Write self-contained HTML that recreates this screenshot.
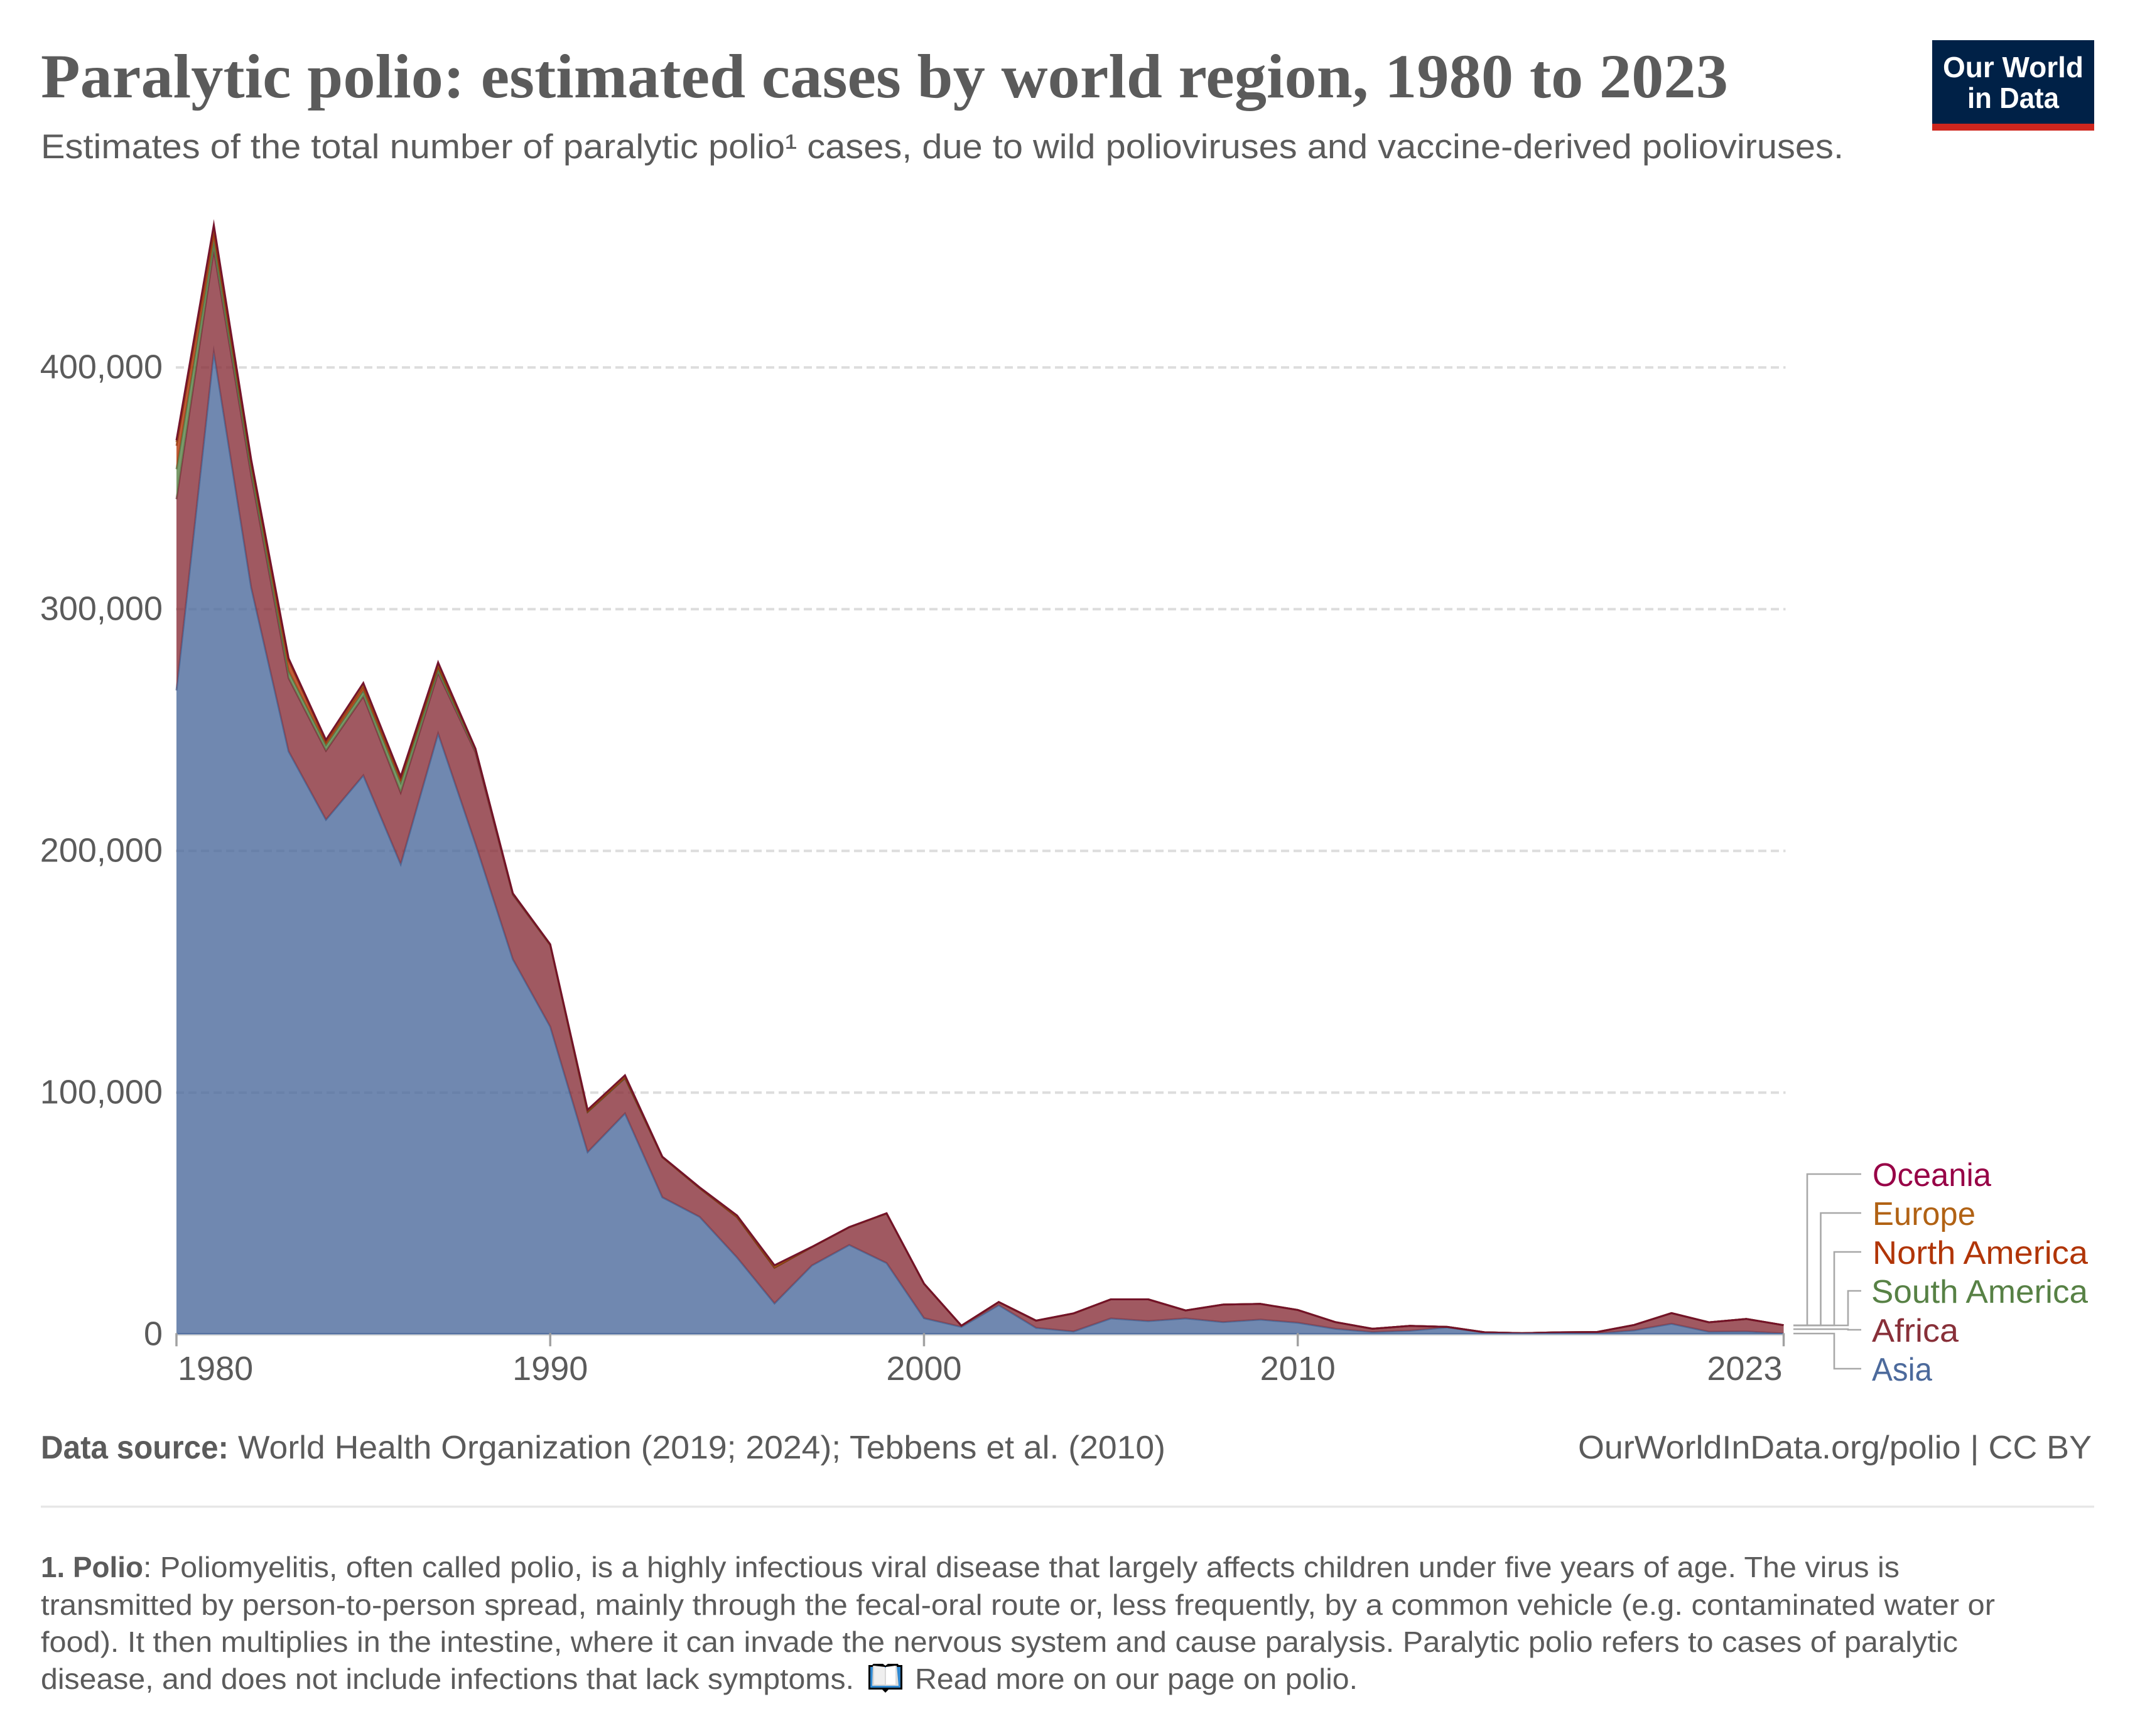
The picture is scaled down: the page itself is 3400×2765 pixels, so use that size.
<!DOCTYPE html>
<html lang="en">
<head>
<meta charset="utf-8">
<title>Paralytic polio: estimated cases by world region, 1980 to 2023</title>
<style>
  html, body { margin: 0; padding: 0; background: #fff; }
  svg { display: block; }
  text { font-family: "Liberation Sans", sans-serif; fill: #5b5b5b; }
</style>
</head>
<body>
<svg id="chart" xmlns="http://www.w3.org/2000/svg" width="3400" height="2765" viewBox="0 0 3400 2765">
  <rect width="3400" height="2765" fill="#fff"/>

  <text x="65" y="155" font-size="100" font-weight="700" textLength="2687" lengthAdjust="spacingAndGlyphs" style="font-family:'Liberation Serif',serif">Paralytic polio: estimated cases by world region, 1980 to 2023</text>
  <text x="65" y="252" font-size="55" textLength="2871" lengthAdjust="spacingAndGlyphs">Estimates of the total number of paralytic polio¹ cases, due to wild polioviruses and vaccine-derived polioviruses.</text>

  <g>
    <rect x="3077" y="64" width="258" height="144" fill="#002147"/>
    <rect x="3077" y="197" width="258" height="11" fill="#ce261e"/>
    <text x="3094" y="123" font-size="46" font-weight="700" textLength="224" lengthAdjust="spacingAndGlyphs" style="fill:#fff">Our World</text>
    <text x="3133" y="172" font-size="46" font-weight="700" textLength="146" lengthAdjust="spacingAndGlyphs" style="fill:#fff">in Data</text>
  </g>

  <g id="grid"></g>
  <g id="areas"></g>
  <g id="axes"></g>

  <g fill="none" stroke="#a8a8a8" stroke-width="2.6">
    <polyline points="2856,2111 2878,2111 2878,1870 2964,1870"/>
    <polyline points="2856,2111 2899.5,2111 2899.5,1932 2964,1932"/>
    <polyline points="2856,2111 2921,2111 2921,1994 2964,1994"/>
    <polyline points="2856,2111 2943,2111 2943,2056 2964,2056"/>
    <polyline points="2856,2117 2943,2117 2943,2118 2964,2118"/>
    <polyline points="2856,2124 2921,2124 2921,2180 2964,2180"/>
  </g>
  <g font-size="52">
    <text x="2982" y="1889" textLength="189" lengthAdjust="spacingAndGlyphs" style="fill:#970046">Oceania</text>
    <text x="2982" y="1951" textLength="164" lengthAdjust="spacingAndGlyphs" style="fill:#B16214">Europe</text>
    <text x="2982" y="2013" textLength="343" lengthAdjust="spacingAndGlyphs" style="fill:#B13507">North America</text>
    <text x="2980" y="2075" textLength="345" lengthAdjust="spacingAndGlyphs" style="fill:#578145">South America</text>
    <text x="2981" y="2137" textLength="138" lengthAdjust="spacingAndGlyphs" style="fill:#883039">Africa</text>
    <text x="2981" y="2199" textLength="96" lengthAdjust="spacingAndGlyphs" style="fill:#4C6A9C">Asia</text>
  </g>

  <text x="65" y="2323" font-size="52" font-weight="700" textLength="299" lengthAdjust="spacingAndGlyphs">Data source:</text>
  <text x="379" y="2323" font-size="52" textLength="1477" lengthAdjust="spacingAndGlyphs">World Health Organization (2019; 2024); Tebbens et al. (2010)</text>
  <text x="2513" y="2323" font-size="52" textLength="818" lengthAdjust="spacingAndGlyphs">OurWorldInData.org/polio | CC BY</text>
  <rect x="65" y="2398" width="3270" height="3.5" fill="#e7e7e7"/>

  <g font-size="46">
    <text x="65" y="2512" font-weight="700" textLength="163" lengthAdjust="spacingAndGlyphs">1. Polio</text>
    <text x="228" y="2512" textLength="2797" lengthAdjust="spacingAndGlyphs">: Poliomyelitis, often called polio, is a highly infectious viral disease that largely affects children under five years of age. The virus is</text>
    <text x="65" y="2572" textLength="3112" lengthAdjust="spacingAndGlyphs">transmitted by person-to-person spread, mainly through the fecal-oral route or, less frequently, by a common vehicle (e.g. contaminated water or</text>
    <text x="65" y="2631" textLength="3053" lengthAdjust="spacingAndGlyphs">food). It then multiplies in the intestine, where it can invade the nervous system and cause paralysis. Paralytic polio refers to cases of paralytic</text>
    <text x="65" y="2690" textLength="1295" lengthAdjust="spacingAndGlyphs">disease, and does not include infections that lack symptoms.</text>
    <text x="1457" y="2690" textLength="705" lengthAdjust="spacingAndGlyphs">Read more on our page on polio.</text>
  </g>
  <g>
    <path d="M1383 2652 L1389 2652 L1391 2650 L1406 2650 L1410 2653 L1414 2650 L1430 2650 L1431 2652 L1437 2652 L1437 2691 L1415 2691 L1410 2696 L1405 2691 L1383 2691 Z" fill="#000"/>
    <rect x="1386" y="2655" width="48" height="33" fill="#2f88d0"/>
    <path d="M1390 2653 L1410 2656 L1410 2685 L1389 2685 Z" fill="#d6d6d6"/>
    <path d="M1428 2653 L1410 2656 L1410 2685 L1431 2685 Z" fill="#dcdcdc"/>
    <path d="M1392 2653 L1409 2655 L1409 2683 L1392 2683 Z" fill="#efefef"/>
    <path d="M1426 2653 L1411 2655 L1411 2683 L1426 2683 Z" fill="#ffffff"/>
  </g>
</svg>
<script>
const years = [1980,1981,1982,1983,1984,1985,1986,1987,1988,1989,1990,1991,1992,1993,1994,1995,1996,1997,1998,1999,2000,2001,2002,2003,2004,2005,2006,2007,2008,2009,2010,2011,2012,2013,2014,2015,2016,2017,2018,2019,2020,2021,2022,2023];
const asia = [266400,406300,309000,241200,212900,231250,194500,248600,202900,155200,127300,75400,91400,56700,48600,31800,12800,28500,37000,29500,6700,3100,12100,2700,1200,6600,5500,6600,5100,6100,4800,2300,950,1500,2900,780,350,500,400,1650,4400,1100,1200,400];
const africa = [79100,42300,46500,30300,28550,32700,29650,25050,37900,26700,33800,16600,14600,16600,11900,16700,14800,7600,7300,20500,14200,450,1250,2950,7450,7900,9000,3300,7200,6500,5300,2800,1350,2000,200,90,150,370,550,2250,4400,3900,5200,3400];
const southAmerica = [12400,4300,3000,3000,2350,2350,4050,1750,1100,300,0,0,0,0,0,0,0,0,0,0,0,0,0,0,0,0,0,0,0,0,0,0,0,0,0,0,0,0,0,0,0,0,0,0];
const northAmerica = [9700,3600,2000,4400,1300,1750,1600,850,200,100,100,200,300,0,0,0,0,0,0,0,0,0,0,0,0,0,0,0,0,0,0,0,0,0,0,0,0,0,0,0,0,0,0,0];
const europe = [1500,1500,1000,500,500,900,600,1000,100,100,100,500,700,100,200,600,800,50,50,50,50,25,25,25,25,0,0,0,0,0,0,0,0,0,0,0,0,0,0,0,0,0,0,0];
const oceania = [800,1000,500,300,350,550,400,750,100,100,100,200,200,100,100,100,200,50,50,50,50,25,25,25,25,0,0,0,0,0,0,0,0,0,0,0,0,0,0,0,0,0,0,0];
const seriesNames = ['asia','africa','south-america','north-america','europe','oceania'];
const seriesValues = [asia, africa, southAmerica, northAmerica, europe, oceania];
const seriesColors = ['#4C6A9C','#883039','#578145','#B13507','#B16214','#970046'];
const edgeColors = ['#3f5b8c','#6f2a33','#4a6f3a','#8f2a05','#8a4c10','#72102a'];
const yTicks = [0,100000,200000,300000,400000];
const xTicks = [1980,1990,2000,2010,2023];

const NS = 'http://www.w3.org/2000/svg';
const plot = { left: 281, right: 2840.5, baseline: 2125.3, unitsPerPixel: 100000 / 385 };
function xScale(year) {
  return plot.left + (year - years[0]) * (plot.right - plot.left) / (years[years.length - 1] - years[0]);
}
function yScale(value) {
  return plot.baseline - value / plot.unitsPerPixel;
}
function make(tag, attrs) {
  const el = document.createElementNS(NS, tag);
  for (const k in attrs) el.setAttribute(k, attrs[k]);
  return el;
}

const gridGroup = document.getElementById('grid');
const axesGroup = document.getElementById('axes');
const areasGroup = document.getElementById('areas');

yTicks.forEach(function (t) {
  const label = make('text', { x: 259, y: yScale(t) + 17, 'font-size': 54, 'text-anchor': 'end' });
  
  
  label.textContent = t.toLocaleString('en-US');
  axesGroup.appendChild(label);
  if (t === 0) return;
  const line = make('line', { x1: 280, x2: plot.right + 3, y1: yScale(t), y2: yScale(t), stroke: '#dddddd', 'stroke-width': 4, 'stroke-dasharray': '13 7' });
  
  
  gridGroup.appendChild(line);
});

const cumulative = years.map(function () { return 0; });
seriesValues.forEach(function (values, s) {
  const lower = cumulative.slice();
  values.forEach(function (v, i) { cumulative[i] += v; });
  const topPts = years.map(function (y, i) { return xScale(y).toFixed(1) + ',' + yScale(cumulative[i]).toFixed(1); });
  const lowPts = years.map(function (y, i) { return xScale(y).toFixed(1) + ',' + yScale(lower[i]).toFixed(1); }).reverse();
  const area = make('polygon', { points: topPts.concat(lowPts).join(' '), fill: seriesColors[s], 'fill-opacity': 0.8 });
  
  
  areasGroup.appendChild(area);
  const edge = make('polyline', { points: topPts.join(' '), fill: 'none', stroke: edgeColors[s], 'stroke-width': 3, 'stroke-opacity': s === 5 ? 0.95 : 0.7, 'stroke-linejoin': 'miter', 'stroke-miterlimit': 10 });
  
  
  areasGroup.appendChild(edge);
});

const axisLine = make('line', { x1: plot.left, x2: plot.right, y1: plot.baseline + 1, y2: plot.baseline + 1, stroke: '#dddddd', 'stroke-width': 3 });


axesGroup.appendChild(axisLine);
const baseEdge = make('line', { x1: plot.left, x2: plot.right, y1: plot.baseline - 1, y2: plot.baseline - 1, stroke: '#4C6A9C', 'stroke-width': 2.5, 'stroke-opacity': 0.8 });


axesGroup.appendChild(baseEdge);

xTicks.forEach(function (t, i) {
  const x = xScale(t);
  const tick = make('line', { x1: x, x2: x, y1: plot.baseline - 2, y2: plot.baseline + 19, stroke: '#a1a1a1', 'stroke-width': 3.5 });
  
  
  axesGroup.appendChild(tick);
  let anchor = 'middle', lx = x;
  if (i === 0) { anchor = 'start'; lx = x + 2; }
  if (i === xTicks.length - 1) { anchor = 'end'; lx = x - 2; }
  const label = make('text', { x: lx, y: 2198, 'font-size': 54, 'text-anchor': anchor });
  
  
  label.textContent = String(t);
  axesGroup.appendChild(label);
});
</script>
</body>
</html>
